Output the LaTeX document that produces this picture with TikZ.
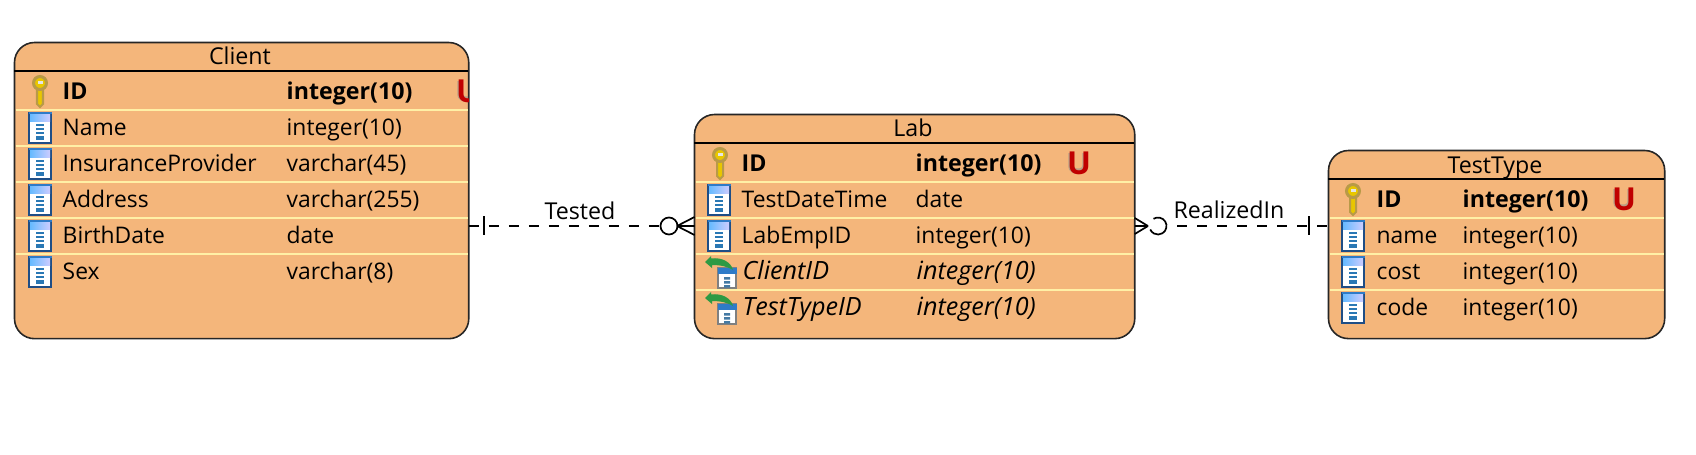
\documentclass[tikz,border=0pt]{standalone}
\usepackage{fontspec}
\setmainfont{Open Sans}
\usepackage{tikz}
\usetikzlibrary{positioning}
\definecolor{tablefill}{HTML}{F4B67B}
\definecolor{rowline}{HTML}{FFF0A6}
\definecolor{uniquered}{HTML}{C00000}
\definecolor{keygold}{HTML}{E8C600}
\definecolor{keyedge}{HTML}{B89A48}
\definecolor{iconedge}{HTML}{1F4E86}
\definecolor{icontop}{HTML}{2E7BC8}
\definecolor{icontick}{HTML}{2A78B4}
\definecolor{fkgreen}{HTML}{2E9A44}
\tikzset{
  keyicon/.pic={
    \fill[keygold, draw=keyedge, line width=.02cm] (-3,-3) -- (-3,13) -- (0,16) -- (3,13) -- (3,-3) -- cycle;
    \fill[keygold, draw=keyedge, line width=.03cm] (0,-8) circle [radius=6.5];
    \fill[white!80!gray] (-2.5,-10.5) rectangle (2.5,-7.5);
  },
  columnicon/.pic={
    \fill[white, draw=iconedge, line width=.02cm] (-11,-15) rectangle (11,15);
    \fill[left color=blue!45!cyan!60!white, right color=blue!20!white] (-10,-14.5) rectangle (10,-7);
    \draw[icontop, line width=.02cm] (-11.5,-15.5) -- (11.5,-15.5);
    \draw[icontick, line width=.018cm] (-4,-3) -- (4,-3) (-4,1) -- (4,1) (-4,5) -- (4,5);
    \fill[icontick] (-4,8) rectangle (4,12);
  },
  fkicon/.pic={
    \fill[white, draw=gray, line width=.015cm] (-1,-2) rectangle (17,18);
    \fill[icontop] (-1.5,-2.5) rectangle (17.5,4);
    \fill[icontick!70!gray] (5,7) rectangle (11,9.5) (5,11) rectangle (11,13.5) (5,15) rectangle (11,17.5);
    \fill[fkgreen] (-14,-8) -- (-8,-14) -- (-8,-11.5) .. controls (3,-13) and (12,-8) .. (14,0)
      .. controls (9,-3) and (3,-5) .. (-7,-5) -- (-7,-2) -- cycle;
  },
  uicon/.pic={
    \draw[black!45, line width=.055cm, opacity=.55] (-8,-10) -- (-8,3) .. controls (-8,10) and (6,10) .. (6,3) -- (6,-10);
    \node[font=\fontsize{9}{10}\selectfont\bfseries, text=uniquered, inner sep=0] {U};
  }
}
\begin{document}
\begin{tikzpicture}[x=.01cm, y=-.01cm]
  \tikzstyle{every node}=[font=\fontsize{6.6}{8}\selectfont]
  \tikzstyle{tablebox}=[draw=black!85, fill=tablefill, line width=.016cm, rounded corners=.2cm, anchor=north west, inner sep=0, outer sep=0]
  \tikzstyle{title}=[anchor=base, inner sep=0]
  \tikzstyle{field}=[anchor=base west, inner sep=0, font=\fontsize{6.5}{8}\selectfont]
  \tikzstyle{keyfield}=[field, font=\fontsize{6.6}{8}\selectfont\bfseries]
  \tikzstyle{fkfield}=[field, font=\fontsize{7.15}{8}\selectfont\itshape]
  \tikzstyle{rowsep}=[rowline, line width=.02cm]
  \tikzstyle{headsep}=[black, line width=.014cm]
  \tikzstyle{rel}=[black, line width=.016cm, dash pattern=on .1cm off .1cm]
  \tikzstyle{relend}=[black, line width=.017cm]
  \useasboundingbox (0,0) rectangle (1696,454);

  % client table
  \node [tablebox, minimum width=4.54cm, minimum height=2.96cm] (client) at (14.5,42.5) {};
  \draw [headsep] (14,71) -- (468,71);
  \draw [rowsep] (15.5,110) -- (467.5,110) (15.5,146) -- (467.5,146) (15.5,182) -- (467.5,182) (15.5,218) -- (467.5,218) (15.5,254) -- (467.5,254);
  \node [title] (clienttitle) at (240,64) {Client};
  \pic at (40,91) {keyicon};
  \node [keyfield] (cid) at (62,99) {ID};
  \node [keyfield] (cidtype) at (286,99) {integer(10)};
  \begin{scope}
    \clip (400,71) rectangle (468,110);
    \pic at (468,91) {uicon};
  \end{scope}
  \pic at (40,128) {columnicon};
  \node [field] (cname) at (62,135) {Name};
  \node [field] (cnametype) at (286,135) {integer(10)};
  \pic at (40,164) {columnicon};
  \node [field] (cins) at (62,171) {InsuranceProvider};
  \node [field] (cinstype) at (286,171) {varchar(45)};
  \pic at (40,200) {columnicon};
  \node [field] (caddr) at (62,207) {Address};
  \node [field] (caddrtype) at (286,207) {varchar(255)};
  \pic at (40,236) {columnicon};
  \node [field] (cbirth) at (62,243) {BirthDate};
  \node [field] (cbirthtype) at (286,243) {date};
  \pic at (40,272) {columnicon};
  \node [field] (csex) at (62,279) {Sex};
  \node [field] (csextype) at (286,279) {varchar(8)};

  % lab table
  \node [tablebox, minimum width=4.4cm, minimum height=2.24cm] (lab) at (694.5,114.5) {};
  \draw [headsep] (694,143) -- (1134,143);
  \draw [rowsep] (695.5,182) -- (1133.5,182) (695.5,218) -- (1133.5,218) (695.5,254) -- (1133.5,254) (695.5,290) -- (1133.5,290);
  \node [title] (labtitle) at (913,136) {Lab};
  \pic at (720,163) {keyicon};
  \node [keyfield] (lid) at (741,171) {ID};
  \node [keyfield] (lidtype) at (915,171) {integer(10)};
  \pic at (1079,163) {uicon};
  \pic at (719,200) {columnicon};
  \node [field] (ldate) at (741,207) {TestDateTime};
  \node [field] (ldatetype) at (915,207) {date};
  \pic at (719,236) {columnicon};
  \node [field] (lemp) at (741,243) {LabEmpID};
  \node [field] (lemptype) at (915,243) {integer(10)};
  \pic at (719,270) {fkicon};
  \node [fkfield] (lclient) at (742,279) {ClientID};
  \node [fkfield] (lclienttype) at (916,279) {integer(10)};
  \pic at (719,306) {fkicon};
  \node [fkfield] (ltype) at (742,315) {TestTypeID};
  \node [fkfield] (ltypetype) at (916,315) {integer(10)};

  % test type table
  \node [tablebox, minimum width=3.36cm, minimum height=1.88cm] (testtype) at (1328.5,150.5) {};
  \draw [headsep] (1328,179) -- (1664,179);
  \draw [rowsep] (1329.5,218) -- (1663.5,218) (1329.5,254) -- (1663.5,254) (1329.5,290) -- (1663.5,290);
  \node [title] (testtitle) at (1495,173) {TestType};
  \pic at (1353,199) {keyicon};
  \node [keyfield] (tid) at (1376,207) {ID};
  \node [keyfield] (tidtype) at (1462,207) {integer(10)};
  \pic at (1624,199) {uicon};
  \pic at (1353,236) {columnicon};
  \node [field] (tname) at (1376,243) {name};
  \node [field] (tnametype) at (1462,243) {integer(10)};
  \pic at (1353,272) {columnicon};
  \node [field] (tcost) at (1376,279) {cost};
  \node [field] (tcosttype) at (1462,279) {integer(10)};
  \pic at (1353,308) {columnicon};
  \node [field] (tcode) at (1376,315) {code};
  \node [field] (tcodetype) at (1462,315) {integer(10)};

  % relations
  \coordinate (testeda) at (client.east |- 0,226);
  \coordinate (testedb) at (lab.west |- 0,226);
  \coordinate (testedf) at (677,226);
  \node [circle, draw, relend, minimum size=.17cm, inner sep=0] (testedo) at (669,226) {};
  \draw [rel] (testeda) -- (testedo);
  \draw [relend] (484,216) -- (484,235);
  \draw [relend] (testedf) -- (testedb) (testedf) -- (lab.west |- 0,217) (testedf) -- (lab.west |- 0,235);
  \node [title] (tested) at (580,219) {Tested};

  \coordinate (realizeda) at (lab.east |- 0,226);
  \coordinate (realizedb) at (testtype.west |- 0,226);
  \coordinate (realizedf) at (1148,226);
  \coordinate (realizedo) at (1177,226);
  \draw [rel] (realizedo) -- (realizedb);
  \draw [relend] (1309,216) -- (1309,235);
  \draw [relend] (realizedf) -- (realizeda) (realizedf) -- (lab.east |- 0,218) (realizedf) -- (lab.east |- 0,234);
  \draw [relend] (1153.5,218.8) arc [start angle=-122, end angle=156, radius=8.5];
  \node [title] (realized) at (1229,218) {RealizedIn};
\end{tikzpicture}
\end{document}
